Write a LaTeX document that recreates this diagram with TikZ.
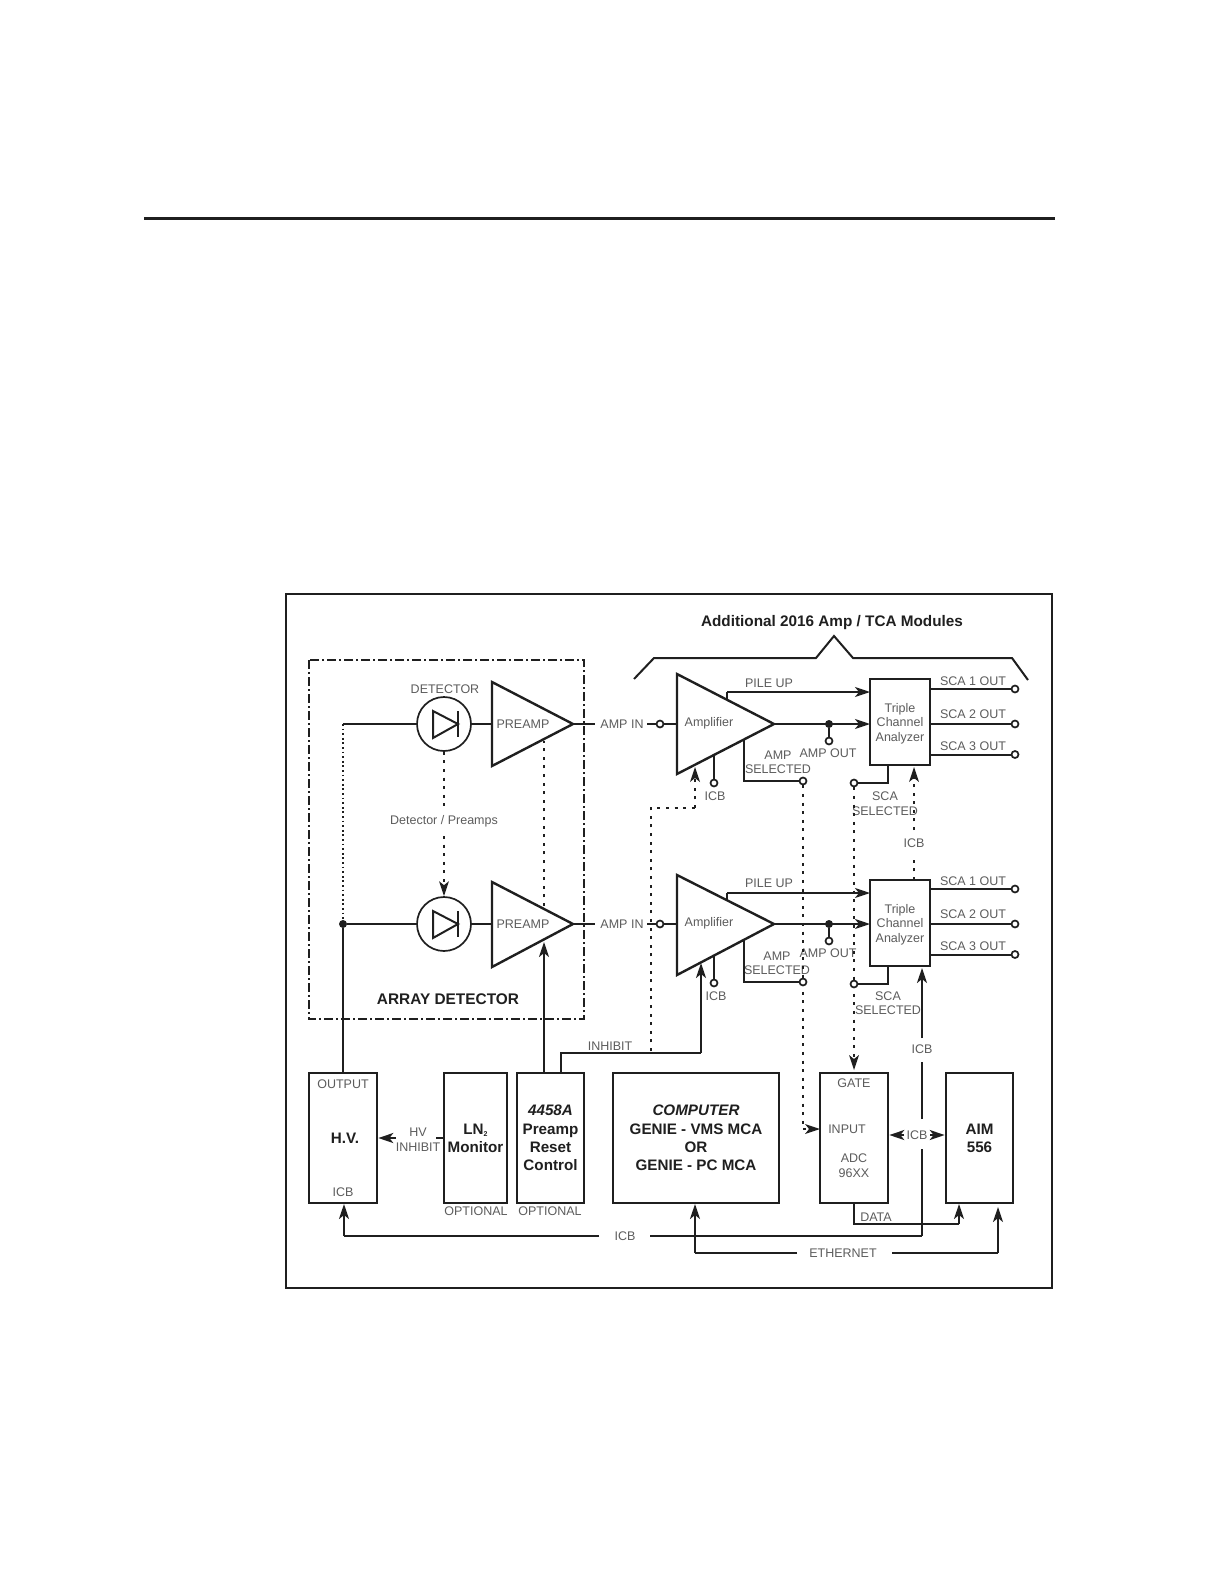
\documentclass[tikz,border=0pt]{standalone}
\usepackage{fontspec}
\setmainfont{Liberation Sans}
\usetikzlibrary{arrows.meta,calc}
\definecolor{ink}{gray}{0.12}
\definecolor{thin}{gray}{0.36}
\tikzset{
  wire/.style={draw=ink,line width=2pt},
  fine/.style={draw=ink,line width=1.5pt},
  arr/.style={wire,-{Stealth[length=15pt,width=10pt,inset=4pt]}},
  dots/.style={draw=ink,line width=2.8pt,dash pattern=on 3pt off 5.6pt},
  darr/.style={dots,-{Stealth[length=15pt,width=10pt,inset=4pt,line width=0pt]}},
  fdots/.style={draw=ink,line width=1.6pt,dash pattern=on 1.8pt off 2.8pt},
  blk/.style={draw=ink,line width=2.6pt,fill=white,inner sep=0pt,align=center,font=\bfseries\fontsize{15.2}{18.3}\selectfont,text=ink},
  tri/.style={draw=ink,line width=2.4pt,line join=miter,fill=white},
  lab/.style={inner sep=0pt,text=thin,align=center,font=\fontsize{12.5}{14.5}\selectfont},
  head/.style={inner sep=0pt,text=ink,font=\bfseries\fontsize{15.3}{18}\selectfont},
  opn/.style={circle,draw=ink,line width=1.7pt,fill=white,inner sep=0pt,minimum size=7pt},
  jun/.style={circle,fill=ink,inner sep=0pt,minimum size=8pt},
  det/.style={circle,draw=ink,line width=1.7pt,inner sep=0pt,minimum size=54pt},
  diode/.style={draw=ink,line width=2pt,line join=miter}
}
\newcommand{\mytriangle}[6]{% name, xleft, xapex, ytop, ybot, ycentre
  \coordinate (#1t) at (#2,#4);
  \coordinate (#1b) at (#2,#5);
  \coordinate (#1a) at (#3,#6);
  \coordinate (#1w) at (#2,#6);
  \draw[tri] (#1t) -- (#1a) -- (#1b) -- cycle;
}
\begin{document}
\begin{tikzpicture}[x=1pt,y=-1pt]
\useasboundingbox (0,0) rectangle (1224,1584);
% page rule and frame
\coordinate (ruleL) at (144,218);
\coordinate (ruleR) at (1055,218);
\draw[draw=ink,line width=3pt] (ruleL) -- (ruleR);
\draw[draw=ink,line width=2pt] (286,594) rectangle (1052,1288);
% array detector frame
\draw[draw=ink,line width=1.9pt,dash pattern=on 9pt off 3pt on 2pt off 3pt] (309,660) rectangle (584,1019);
% brace
\coordinate (b1) at (634,679); \coordinate (b2) at (654,658); \coordinate (b3) at (816,658);
\coordinate (b4) at (834,636); \coordinate (b5) at (853,658); \coordinate (b6) at (1012,658);
\coordinate (b7) at (1028,680);
\draw[wire] (b1) -- (b2) -- (b3) -- (b4) -- (b5) -- (b6) -- (b7);
\node[head] (title) at (832,623) {Additional 2016 Amp / TCA Modules};

% triangles
\mytriangle{preU}{492}{573}{682}{766}{724}
\mytriangle{preL}{492}{573}{882}{967}{924}
\mytriangle{ampU}{677}{774}{674}{774}{724}
\mytriangle{ampL}{677}{774}{875}{975}{924}

% boxes
\node[blk,minimum width=68pt,minimum height=130pt] (hv) at (343,1138) {\hspace{4pt}H.V.};
\node[blk,minimum width=63pt,minimum height=130pt] (ln) at (475.5,1138) {LN\raisebox{-2pt}{\fontsize{7}{7}\selectfont 2}\\Monitor};
\node[blk,minimum width=67pt,minimum height=130pt] (res) at (550.5,1138) {\textit{4458A}\\Preamp\\Reset\\Control};
\node[blk,minimum width=166pt,minimum height=130pt] (comp) at (696,1138) {\textit{COMPUTER}\\GENIE - VMS MCA\\OR\\GENIE - PC MCA};
\node[blk,minimum width=68pt,minimum height=130pt] (adc) at (854,1138) {};
\node[blk,minimum width=67pt,minimum height=130pt] (aim) at (979.5,1138) {AIM\\556};
\node[blk,draw=ink,minimum width=60pt,minimum height=86pt] (tcaU) at (900,722) {};
\node[blk,draw=ink,minimum width=60pt,minimum height=86pt] (tcaL) at (900,923) {};

% detectors
\node[det] (detU) at (444,724) {};
\node[det] (detL) at (444,924) {};
\foreach \n/\y in {dU/724,dL/924}{
  \coordinate (\n t) at (433,\y-13);
  \coordinate (\n b) at (433,\y+14);
  \coordinate (\n a) at (458,\y);
  \coordinate (\n p) at (458,\y-13);
  \coordinate (\n q) at (458,\y+13);
  \draw[diode] (\n t) -- (\n a) -- (\n b) -- cycle;
  \draw[diode] (\n p) -- (\n q);
}
% left bias line
\coordinate (biasU) at (343,724);
\node[jun] (biasL) at (343,924) {};
\draw[wire] (biasU) -- (detU.west);
\draw[wire] (biasL) -- (detL.west);
\draw[fdots] (biasU) -- (biasL);
\draw[wire] (biasL) -- (hv.north -| biasL);
\draw[wire] (detU.east) -- (preUw);
\draw[wire] (detL.east) -- (preLw);
% detector array link
\coordinate (dk1) at (444,836);
\coordinate (dk2) at (444,808);
\node[lab] (lDP) at (444,821) {Detector / Preamps};
\draw[dots] (detU.south) -- (dk2);
\draw[darr] (dk1) -- (detL.north);
% preamp reset
\coordinate (rp1) at (544,1073);
\coordinate (rp2) at (544,942);
\coordinate (rp3) at (544,906);
\coordinate (rp4) at (544,741);
\draw[arr] (rp1) -- (rp2);
\draw[dots] (rp3) -- (rp4);

% amp in
\foreach \n/\m/\y in {U/u/724,L/l/924}{
  \coordinate (ai\n) at (595,\y);
  \coordinate (bi\n) at (647,\y);
  \node[lab] (lAI\n) at (622,\y) {AMP IN};
  \node[opn] (oi\n) at (660,\y) {};
  \draw[wire] (pre\n a) -- (ai\n);
  \draw[wire] (bi\n) -- (oi\n) -- (amp\n w);
}

% inhibit
\coordinate (inh0) at (561,1053);
\coordinate (inh1) at (701,1053);
\coordinate (inh2) at (701,963);
\draw[wire] (res.north -| inh0) -- (inh0) -- (inh1);
\draw[arr] (inh1) -- (inh2);
\node[lab] (lINH) at (610,1046) {INHIBIT};
% dotted inhibit
\coordinate (di0) at (651,1051);
\coordinate (di1) at (651,808);
\coordinate (di2) at (695,808);
\coordinate (di3) at (695,767);
\draw[dots] (di0) -- (di1) -- (di2);
\draw[darr] (di2) -- (di3);

% amplifier outputs etc.
\foreach \n/\o in {U/0,L/200}{
  \node[jun] (ja\n) at (829,724+\o) {};
  \node[opn] (oa\n) at (829,741+\o) {};
  \coordinate (out\n) at (870,724+\o);
  \draw[arr] (amp\n a) -- (out\n);
  \draw[wire] (ja\n) -- (oa\n);
  \coordinate (ic\n a) at (714,755+\o);
  \node[opn] (oc\n) at (714,783+\o) {};
  \draw[wire] (ic\n a) -- (oc\n);
}
\coordinate (puU0) at (727,699); \coordinate (puU1) at (727,692); \coordinate (puU2) at (870,692);
\coordinate (puL0) at (727,900); \coordinate (puL1) at (727,893); \coordinate (puL2) at (870,893);
\draw[wire] (puU0) -- (puU1);
\draw[arr] (puU1) -- (puU2);
\draw[wire] (puL0) -- (puL1);
\draw[arr] (puL1) -- (puL2);
\node[lab] (lPUU) at (769,683) {PILE UP};
\node[lab] (lPUL) at (769,883) {PILE UP};
\node[lab] (lAOU) at (828,753) {AMP OUT};
\node[lab] (lAOL) at (828,953) {AMP OUT};
\node[lab] (lICU) at (715,796) {ICB};
\node[lab] (lICL) at (716,996) {ICB};
\node[lab] (lAmU) at (709,723) {Amplifier};
\node[lab] (lAmL) at (709,923) {Amplifier};
\node[lab] (lPrU) at (523,724) {PREAMP};
\node[lab] (lPrL) at (523,924) {PREAMP};
\node[lab] (lDet) at (445,689) {DETECTOR};
\node[lab] (lSU) at (778,762.5) {AMP\\SELECTED};
\node[lab] (lSL) at (777,963) {AMP\\SELECTED};
\node[lab] (lSCU) at (885,803.5) {SCA\\SELECTED};
\node[lab] (lSCL) at (888,1003) {SCA\\SELECTED};
\node[lab] (lTU) at (900,723.5) {Triple\\Channel\\Analyzer};
\node[lab] (lTL) at (900,924.5) {Triple\\Channel\\Analyzer};

% amp selected
\coordinate (asU0) at (744,740); \coordinate (asU1) at (744,781);
\coordinate (asL0) at (744,940); \coordinate (asL1) at (744,982);
\coordinate (in1) at (803,1129);
\coordinate (in2) at (820,1129);
\node[opn] (asUo) at (803,781) {};
\draw[dots] (asUo) -- (in1);
\draw[darr] (in1) -- (in2);
\node[opn] (asLo) at (803,982) {};
\draw[wire] (asU0) -- (asU1) -- (asUo);
\draw[wire] (asL0) -- (asL1) -- (asLo);

% SCA selected
\coordinate (scU0) at (888,783); \coordinate (scL0) at (888,984);
\coordinate (gt) at (854,1070);
\node[opn] (scUo) at (854,783) {};
\draw[darr] (scUo) -- (gt);
\node[opn] (scLo) at (854,984) {};
\draw[wire] (tcaU.south -| scU0) -- (scU0) -- (scUo);
\draw[wire] (tcaL.south -| scL0) -- (scL0) -- (scLo);

% SCA outs
\foreach \n/\o in {U/0,L/200}{
  \foreach \k/\y/\ly/\t in {1/689/681.5/SCA 1 OUT,2/724/714.5/SCA 2 OUT,3/754.5/746/SCA 3 OUT}{
    \node[opn] (so\n\k) at (1015,\y+\o) {};
    \draw[wire] (tca\n.east |- so\n\k) -- (so\n\k);
    \node[lab] (ls\n\k) at (973,\ly+\o) {\t};
  }
}

% dotted ICB between TCAs
\coordinate (ib0) at (914,880);
\coordinate (ib1) at (914,855);
\coordinate (ib2) at (914,830);
\coordinate (ib3) at (914,767);
\node[lab] (lIB) at (914,843) {ICB};
\draw[dots] (ib0) -- (ib1);
\draw[darr] (ib2) -- (ib3);

% ICB bus
\coordinate (ic0) at (344,1204);
\coordinate (ic1) at (344,1236);
\coordinate (ic2) at (599,1236);
\coordinate (ic3) at (650,1236);
\coordinate (ic4) at (922,1236);
\coordinate (ic5) at (922,1149);
\coordinate (ic6) at (922,1119);
\coordinate (ic7) at (922,1062);
\coordinate (ic8) at (922,1038);
\coordinate (ic9) at (922,968);
\draw[fine] (ic2) -- (ic1);
\draw[arr] (ic1) -- (ic0);
\draw[fine] (ic3) -- (ic4);
\draw[wire] (ic4) -- (ic5);
\draw[wire] (ic6) -- (ic7);
\draw[arr] (ic8) -- (ic9);
\node[lab] (lI1) at (625,1236) {ICB};
\node[lab] (lI2) at (922,1049) {ICB};
\node[lab] (lI3) at (917,1135) {ICB};
% ICB ADC - AIM
\coordinate (ia1) at (904,1135);
\coordinate (ia2) at (930,1135);
\draw[arr] (ia1) -- (adc.east |- ia1);
\draw[arr] (ia2) -- (aim.west |- ia2);

% data
\coordinate (da1) at (854,1224);
\coordinate (da2) at (959,1224);
\coordinate (da3) at (959,1204);
\draw[wire] (adc.south -| da1) -- (da1) -- (da2);
\draw[arr] (da2) -- (da3);
\node[lab] (lD) at (876,1217) {DATA};

% ethernet
\coordinate (et0) at (695,1204);
\coordinate (et1) at (695,1253);
\coordinate (et2) at (797,1253);
\coordinate (et3) at (892,1253);
\coordinate (et4) at (998,1253);
\coordinate (et5) at (998,1207);
\draw[wire] (et2) -- (et1);
\draw[arr] (et1) -- (et0);
\draw[wire] (et3) -- (et4);
\draw[arr] (et4) -- (et5);
\node[lab] (lE) at (843,1253) {ETHERNET};

% HV inhibit
\coordinate (hi1) at (436,1138);
\coordinate (hi2) at (396,1138);
\draw[wire] (ln.west |- hi1) -- (hi1);
\draw[arr] (hi2) -- (hv.east |- hi2);
\node[lab] (lHV) at (418,1139.5) {HV\\INHIBIT};

% box labels
\node[lab] (lOut) at (343,1084) {OUTPUT};
\node[lab] (lIc) at (343,1192) {ICB};
\node[lab] (lO1) at (476,1211) {OPTIONAL};
\node[lab] (lO2) at (550,1211) {OPTIONAL};
\node[lab] (lG) at (854,1083) {GATE};
\node[lab] (lIn) at (847,1129) {INPUT};
\node[lab] (lA) at (854,1165.5) {ADC\\96XX};
\node[head,font=\bfseries\fontsize{15.4}{18}\selectfont] (lArr) at (448,999) {ARRAY DETECTOR};
\end{tikzpicture}
\end{document}
